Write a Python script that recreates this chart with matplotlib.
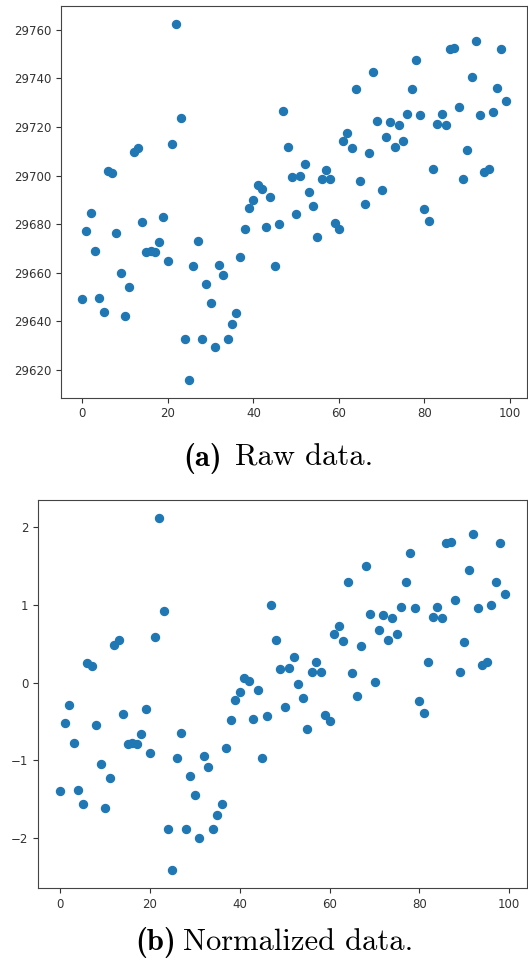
import numpy as np
import matplotlib.pyplot as plt

# raw readings, index 0..99
raw = [29649.0, 29677.3, 29684.8, 29669.0, 29649.5, 29643.7, 29701.9, 29701.0, 29676.4, 29660.0,
       29642.0, 29654.2, 29709.7, 29711.5, 29680.8, 29668.5, 29669.0, 29668.5, 29672.6, 29683.0,
       29664.7, 29712.9, 29762.5, 29723.7, 29632.9, 29615.9, 29662.7, 29673.2, 29632.9, 29655.2,
       29647.4, 29629.5, 29663.4, 29659.0, 29632.9, 29639.0, 29643.3, 29666.6, 29678.2, 29686.6,
       29690.1, 29696.0, 29694.5, 29679.0, 29691.0, 29662.7, 29680.1, 29726.4, 29711.6, 29699.5,
       29684.0, 29699.9, 29704.7, 29693.2, 29687.5, 29674.8, 29698.4, 29702.5, 29698.4, 29680.5,
       29678.1, 29714.2, 29717.5, 29711.2, 29735.6, 29697.9, 29688.5, 29709.3, 29742.5, 29722.5,
       29694.0, 29715.9, 29721.9, 29711.8, 29720.7, 29714.1, 29725.5, 29735.6, 29747.7, 29725.1,
       29686.2, 29681.4, 29702.7, 29721.1, 29725.5, 29720.7, 29752.1, 29752.5, 29728.1, 29698.4,
       29710.7, 29740.8, 29755.6, 29725.1, 29701.4, 29702.7, 29726.0, 29735.9, 29752.1, 29730.8]

x = np.arange(len(raw))
y = np.array(raw)
y_norm = (y - y.mean()) / y.std()

fig = plt.figure(figsize=(5.28, 9.66), dpi=100)

ax1 = fig.add_axes([0.1155, 0.5883, 0.8825, 0.4055])
ax1.scatter(x, y, s=33, c='#1f77b4')
ax1.set_xticks([0, 20, 40, 60, 80, 100])
ax1.set_yticks(np.arange(29620, 29761, 20))
ax1.tick_params(labelsize=8.5, colors='#333333')

ax2 = fig.add_axes([0.072, 0.0807, 0.926, 0.4017])
ax2.scatter(x, y_norm, s=33, c='#1f77b4')
ax2.set_xticks([0, 20, 40, 60, 80, 100])
ax2.set_yticks([-2, -1, 0, 1, 2])
ax2.tick_params(labelsize=8.5, colors='#333333')

for ax in (ax1, ax2):
    for sp in ax.spines.values():
        sp.set_color('#444444')

# captions
fig.text(0.3466, 0.5176, '(a)', family='cmb10', fontsize=22, va='baseline')
fig.text(0.445, 0.5176, 'Raw data.', family='cmr10', fontsize=22, va='baseline')
fig.text(0.2557, 0.0166, '(b)', family='cmb10', fontsize=22, va='baseline')
fig.text(0.3466, 0.0166, 'Normalized data.', family='cmr10', fontsize=22, va='baseline')

fig.savefig('out.png', dpi=100)
